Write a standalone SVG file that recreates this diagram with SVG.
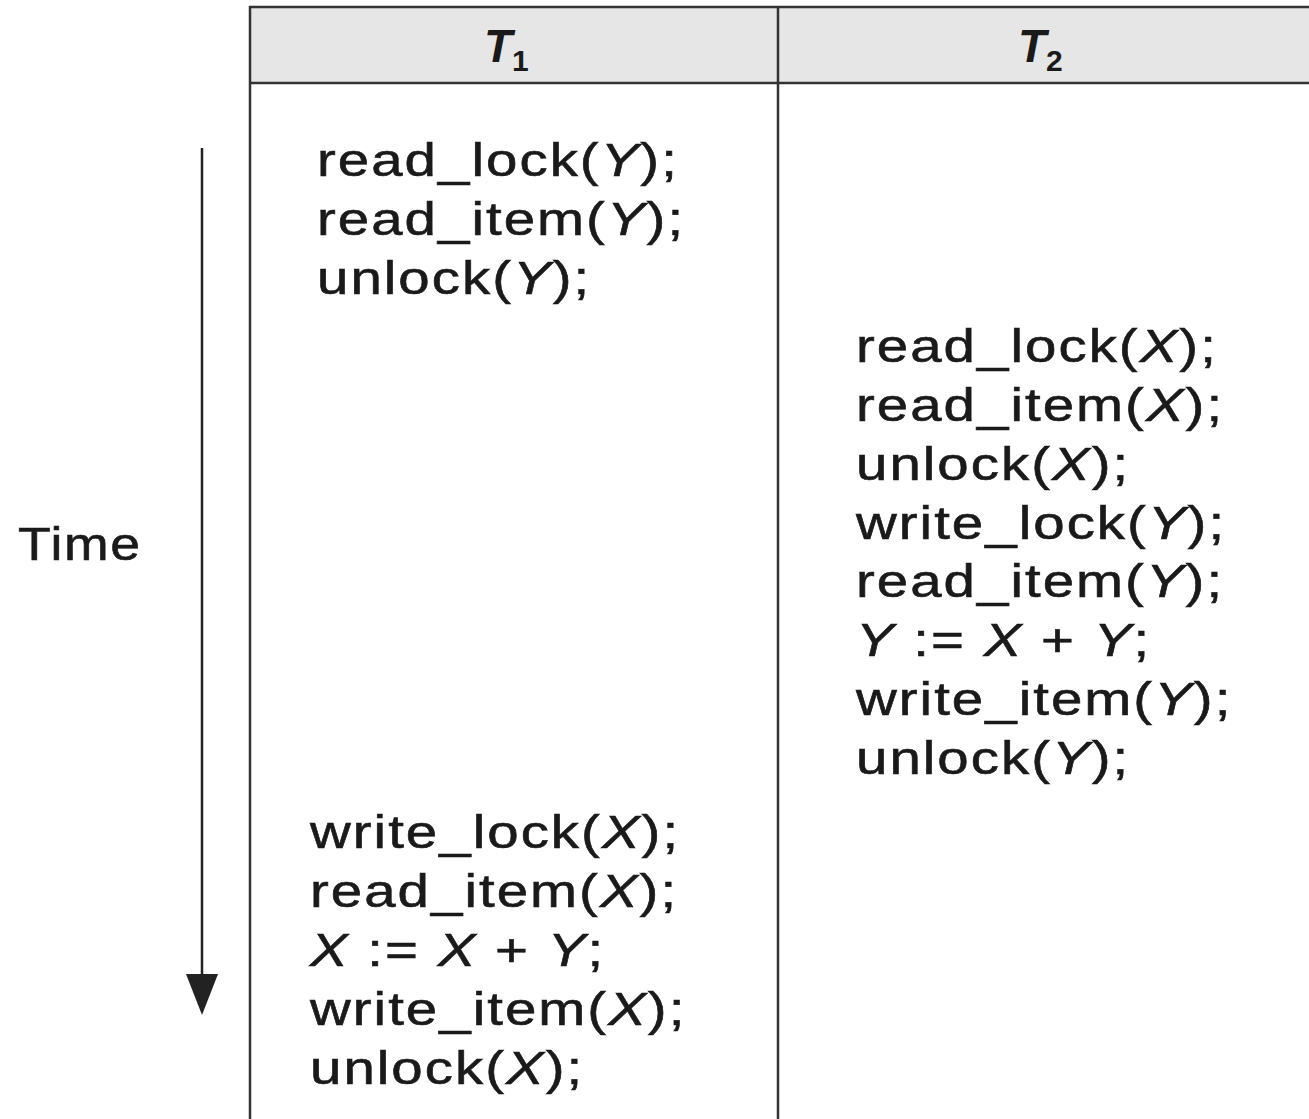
<svg xmlns="http://www.w3.org/2000/svg" width="1309" height="1119" viewBox="0 0 1309 1119">
<style>
.code{font-family:"Liberation Sans",Arial,sans-serif;font-size:47px;letter-spacing:1.7px;fill:#1a1a1a;stroke:#1a1a1a;stroke-width:0.6}
.v{font-style:italic}
.hdr{font-family:"Liberation Sans",Arial,sans-serif;font-weight:bold;font-style:italic;font-size:46px;fill:#1a1a1a}
.sub{font-size:30px;font-style:normal}
.ln{stroke:#333;stroke-width:2.5;fill:none}
</style>
<rect width="1309" height="1119" fill="#fff"/>
<g id="table">
<rect x="249" y="7" width="1070" height="76" fill="#e6e6e6"/>
<line class="ln" x1="249" y1="7" x2="1309" y2="7"/>
<line class="ln" x1="249" y1="83" x2="1309" y2="83"/>
<line class="ln" x1="250" y1="6" x2="250" y2="1119"/>
<line class="ln" x1="778" y1="6" x2="778" y2="1119"/>
</g>
<g id="header-T1"><text class="hdr" x="484" y="62">T<tspan class="sub" dy="9">1</tspan></text></g>
<g id="header-T2"><text class="hdr" x="1018" y="62">T<tspan class="sub" dy="9">2</tspan></text></g>
<g id="connectors">
<line x1="202" y1="148" x2="202" y2="980" stroke="#222" stroke-width="2.5"/>
<polygon points="186,974 218,974 202,1015" fill="#222"/>
</g>
<g id="time-label" transform="translate(18,0) scale(1.14,1)"><text class="code" x="0" y="560" style="letter-spacing:1.5px">Time</text></g>
<g id="T1-block1" transform="translate(317,0) scale(1.2,1)">
<text class="code" x="0" y="176">read_lock(<tspan class="v">Y</tspan>);</text>
<text class="code" x="0" y="235">read_item(<tspan class="v">Y</tspan>);</text>
<text class="code" x="0" y="294">unlock(<tspan class="v">Y</tspan>);</text>
</g>
<g id="T2-block" transform="translate(856,0) scale(1.2,1)">
<text class="code" x="0" y="362">read_lock(<tspan class="v">X</tspan>);</text>
<text class="code" x="0" y="421">read_item(<tspan class="v">X</tspan>);</text>
<text class="code" x="0" y="480">unlock(<tspan class="v">X</tspan>);</text>
<text class="code" x="0" y="539">write_lock(<tspan class="v">Y</tspan>);</text>
<text class="code" x="0" y="597">read_item(<tspan class="v">Y</tspan>);</text>
<text class="code" x="0" y="656"><tspan class="v">Y</tspan> := <tspan class="v">X</tspan> + <tspan class="v">Y</tspan>;</text>
<text class="code" x="0" y="715">write_item(<tspan class="v">Y</tspan>);</text>
<text class="code" x="0" y="774">unlock(<tspan class="v">Y</tspan>);</text>
</g>
<g id="T1-block2" transform="translate(310,0) scale(1.2,1)">
<text class="code" x="0" y="848">write_lock(<tspan class="v">X</tspan>);</text>
<text class="code" x="0" y="907">read_item(<tspan class="v">X</tspan>);</text>
<text class="code" x="0" y="966"><tspan class="v">X</tspan> := <tspan class="v">X</tspan> + <tspan class="v">Y</tspan>;</text>
<text class="code" x="0" y="1025">write_item(<tspan class="v">X</tspan>);</text>
<text class="code" x="0" y="1084">unlock(<tspan class="v">X</tspan>);</text>
</g>
</svg>
